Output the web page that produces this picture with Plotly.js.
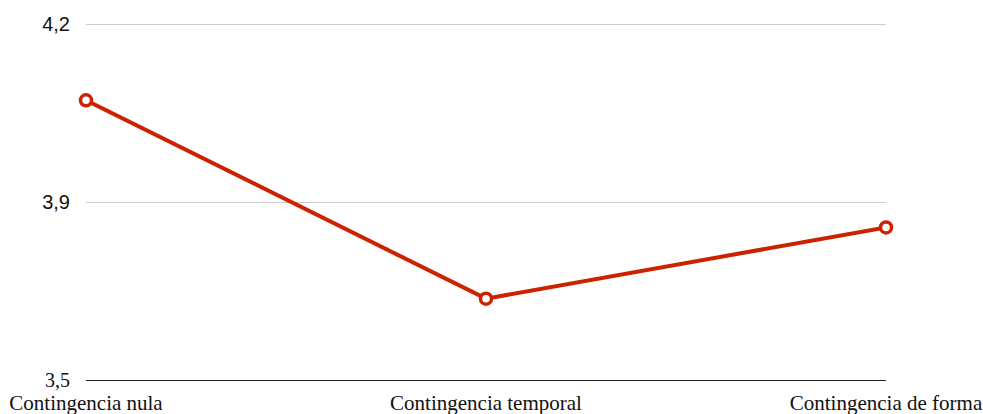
<!DOCTYPE html>
<html>
<head>
<meta charset="utf-8">
<script src="https://cdn.plot.ly/plotly-3.0.1.min.js"></script>
<style>html,body{margin:0;padding:0;background:#fff}#chart{width:983px;height:414px}</style>
</head>
<body>
<div id="chart"></div>
<script>
const categories = ["Contingencia nula", "Contingencia temporal", "Contingencia de forma"];
const values = [4.05, 3.66, 3.80];
const yTickVals = [3.5, 3.85, 4.2];
const yTickText = ['<span style="font-family:Liberation Serif">3,5</span>', "3,9", "4,2"];

const trace = {
  x: categories,
  y: values,
  type: "scatter",
  mode: "lines+markers",
  line: {color: "#cc2200", width: 4},
  marker: {symbol: "circle", size: 11, color: "#ffffff", line: {color: "#cc2200", width: 3.5}},
  cliponaxis: false,
  hoverinfo: "none"
};

const layout = {
  width: 983, height: 414,
  margin: {l: 86, r: 97, t: 14, b: 34},
  paper_bgcolor: "#ffffff",
  plot_bgcolor: "#ffffff",
  showlegend: false,
  xaxis: {
    type: "category",
    range: [0, 2],
    showgrid: false,
    zeroline: false,
    showline: true,
    linecolor: "#222222",
    linewidth: 1,
    ticks: "",
    tickfont: {family: "Liberation Serif, Times New Roman, serif", size: 21, color: "#111111"},
    ticklabelstandoff: 4
  },
  yaxis: {
    range: [3.5, 4.2197],
    tickmode: "array",
    tickvals: yTickVals,
    ticktext: yTickText,
    showgrid: true,
    gridcolor: "#cccccc",
    gridwidth: 1,
    zeroline: false,
    showline: false,
    ticks: "",
    tickfont: {family: "Liberation Sans, Arial, sans-serif", size: 20, color: "#111111"},
    ticklabelstandoff: 15
  }
};

Plotly.newPlot("chart", [trace], layout, {displayModeBar: false, staticPlot: true});
</script>
</body>
</html>
